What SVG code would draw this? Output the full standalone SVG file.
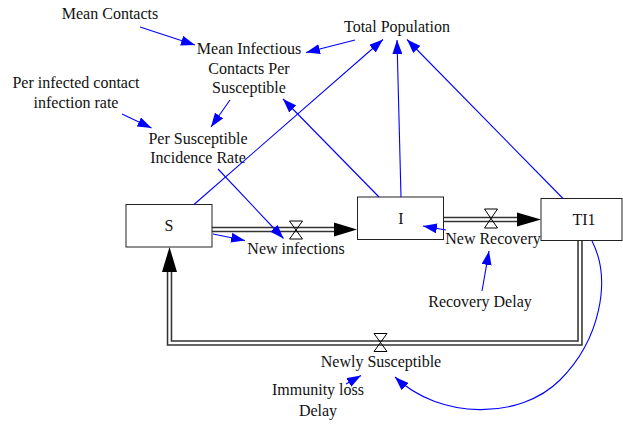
<svg xmlns="http://www.w3.org/2000/svg" width="623" height="424" viewBox="0 0 623 424" font-family="Liberation Serif, Times New Roman, DejaVu Serif, serif">
<style>
text{font-size:16px;fill:#111;text-anchor:middle}
.box{fill:#fff;stroke:#222;stroke-width:1}
.po{stroke:#333;stroke-width:5.5;fill:none;stroke-linejoin:miter}
.pi{stroke:#fff;stroke-width:2.4;fill:none;stroke-linejoin:miter}
.valve{fill:none;stroke:#000;stroke-width:1}
.lk{stroke:#00f;stroke-width:1.1;fill:none;marker-end:url(#ab)}
</style>
<defs>
<marker id="ab" markerWidth="14" markerHeight="10" refX="14" refY="5" orient="auto" markerUnits="userSpaceOnUse"><path d="M0,0 L14,5 L0,10 Z" fill="#00f"/></marker>
</defs>
<g id="pipes">
<path class="po" d="M212,229.5 H335"/><path class="pi" d="M211,229.5 H335"/>
<path d="M334,222.5 L357,229.5 L334,236.5 Z" fill="#000"/>
<path class="valve" d="M289.5,221 H302.5 L289.5,239 H302.5 Z"/>
<path class="po" d="M443,219.5 H518"/><path class="pi" d="M442,219.5 H518"/>
<path d="M517,212.5 L541,219.5 L517,226.5 Z" fill="#000"/>
<path class="valve" d="M484.5,209 H497.5 L484.5,228 H497.5 Z"/>
<path class="po" d="M580,240.5 V343 H169.5 V271"/><path class="pi" d="M580,240 V343 H169.5 V271"/>
<path d="M162,272 L169.5,247 L177,272 Z" fill="#000"/>
<path class="valve" d="M374,333.5 H387 L374,351.5 H387 Z"/>
</g>
<g id="S"><rect class="box" x="126" y="204.5" width="86" height="42.5"/><text x="169" y="231">S</text></g>
<g id="I"><rect class="box" x="357.5" y="197" width="86" height="42.5"/><text x="401" y="224">I</text></g>
<g id="TI1"><rect class="box" x="541" y="198.5" width="81" height="42"/><text x="584" y="224.5">TI1</text></g>
<g id="MeanContacts"><text x="110" y="19">Mean Contacts</text></g>
<g id="TotalPopulation"><text x="397" y="31.5">Total Population</text></g>
<g id="MeanInfectious"><text x="249" y="54">Mean Infectious</text><text x="249" y="73.5">Contacts Per</text><text x="249" y="93">Susceptible</text></g>
<g id="PerInfected"><text x="76" y="88">Per infected contact</text><text x="76" y="107.5">infection rate</text></g>
<g id="PerSusceptible"><text x="198" y="143.5">Per Susceptible</text><text x="198" y="163">Incidence Rate</text></g>
<g id="NewInfections"><text x="296" y="254">New infections</text></g>
<g id="NewRecovery"><text x="493" y="243.5">New Recovery</text></g>
<g id="RecoveryDelay"><text x="480" y="306.5">Recovery Delay</text></g>
<g id="NewlySusceptible"><text x="381" y="366.5">Newly Susceptible</text></g>
<g id="ImmunityLoss"><text x="318" y="395">Immunity loss</text><text x="318" y="415.5">Delay</text></g>
<g id="connectors">
<path class="lk" d="M140,27 L195,45"/>
<path class="lk" d="M355,40 L306,52.5"/>
<path class="lk" d="M230,100 L211,127"/>
<path class="lk" d="M122,114 L151.5,128"/>
<path class="lk" d="M194,204.5 L383,39.5"/>
<path class="lk" d="M379,197 L283,99"/>
<path class="lk" d="M401,197 L397,40"/>
<path class="lk" d="M563,198.5 L407,39.5"/>
<path class="lk" d="M218,169 L283.5,238.5"/>
<path class="lk" d="M213,234 L245,240.5"/>
<path class="lk" d="M446,230 L423,226"/>
<path class="lk" d="M482,291 L489,251"/>
<path class="lk" d="M346,384 L361,375.5"/>
<path class="lk" d="M592,241 C612,280 600,340 560,380 C520,420 440,420 395,377"/>
</g>
</svg>
